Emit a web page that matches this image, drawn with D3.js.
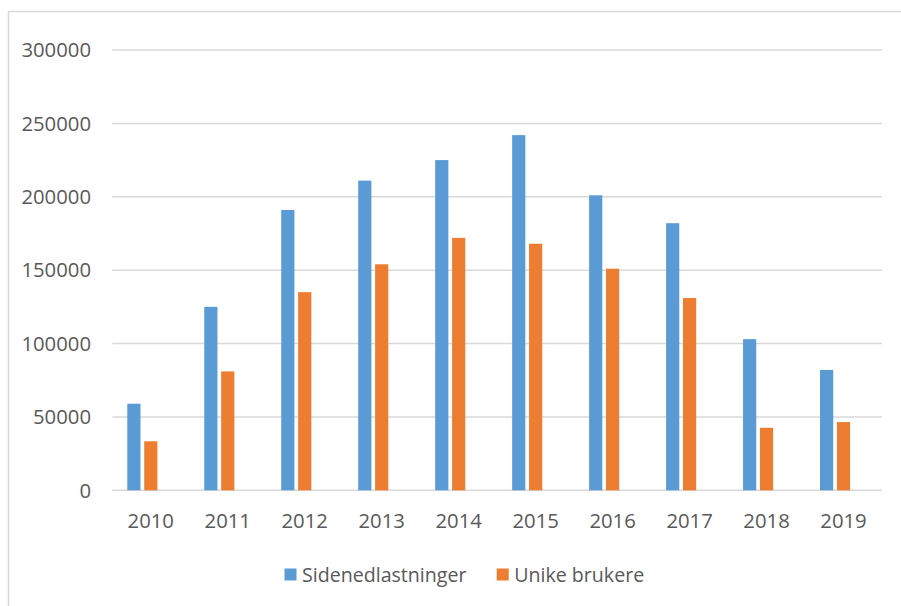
<!DOCTYPE html>
<html>
<head>
<meta charset="utf-8">
<script src="https://cdn.jsdelivr.net/npm/d3@7"></script>
<style>
  body { margin: 0; background: #fff; }
  svg text { font-family: "Open Sans", sans-serif; fill: #595959; }
</style>
</head>
<body>
<div id="chart"></div>
<script>
// Data
var years = ["2010", "2011", "2012", "2013", "2014", "2015", "2016", "2017", "2018", "2019"];
var sidenedlastninger = [59000, 125000, 191000, 211000, 225000, 242000, 201000, 182000, 103000, 82000];
var unikeBrukere = [33400, 81000, 135000, 154000, 172000, 168000, 151000, 131000, 42600, 46500];
var yTicks = [0, 50000, 100000, 150000, 200000, 250000, 300000];
var seriesNames = ["Sidenedlastninger", "Unike brukere"];
var seriesColors = ["#5B9BD5", "#ED7D31"];

var width = 901, height = 606;
var plot = {left: 112.3, right: 882, top: 50, bottom: 490.3};

var svg = d3.select("#chart")
  .append("svg")
    .attr("width", width)
    .attr("height", height);

// outer chart frame (runs off the right and bottom edge)
svg.append("rect")
  .attr("x", 8.5).attr("y", 11.5)
  .attr("width", 1000).attr("height", 1000)
  .attr("fill", "none")
  .attr("stroke", "#D9D9D9")
  .attr("stroke-width", 1.5);

var x0 = d3.scaleBand().domain(years).range([plot.left, plot.right]);
// the source has an empty third slot in each cluster
var x1 = d3.scaleBand().domain(["s0", "s1", "s2"]).range([15, 62]).paddingInner(0.22);
var y = d3.scaleLinear().domain([0, 300000]).range([plot.bottom, plot.top]);

// gridlines
svg.append("g")
  .selectAll("line")
  .data(yTicks)
  .join("line")
    .attr("x1", plot.left).attr("x2", plot.right)
    .attr("y1", function(d) { return y(d); })
    .attr("y2", function(d) { return y(d); })
    .attr("stroke", "#D9D9D9")
    .attr("stroke-width", 1.5);

// y axis labels
svg.append("g")
  .selectAll("text")
  .data(yTicks)
  .join("text")
    .attr("x", 91)
    .attr("y", function(d) { return y(d); })
    .attr("dy", "0.36em")
    .attr("text-anchor", "end")
    .style("font-size", "20.3px")
    .text(function(d) { return d; });

// bars
var series = [sidenedlastninger, unikeBrukere];
series.forEach(function(values, s) {
  svg.append("g")
    .attr("fill", seriesColors[s])
    .selectAll("rect")
    .data(values)
    .join("rect")
      .attr("x", function(d, i) { return x0(years[i]) + x1("s" + s); })
      .attr("y", function(d) { return y(d); })
      .attr("width", x1.bandwidth())
      .attr("height", function(d) { return y(0) - y(d); });
});

// x axis labels
svg.append("g")
  .selectAll("text")
  .data(years)
  .join("text")
    .attr("x", function(d) { return x0(d) + x0.bandwidth() / 2; })
    .attr("y", 527.8)
    .attr("text-anchor", "middle")
    .style("font-size", "20.3px")
    .text(function(d) { return d; });

// legend
var legendX = [284.5, 496.7];
var legend = svg.append("g")
  .selectAll("g")
  .data(seriesNames)
  .join("g")
    .attr("transform", function(d, i) { return "translate(" + legendX[i] + ",568.5)"; });

legend.append("rect")
  .attr("width", 12).attr("height", 12)
  .attr("fill", function(d, i) { return seriesColors[i]; });

legend.append("text")
  .attr("x", 17.5)
  .attr("y", 13.2)
  .style("font-size", "19.6px")
  .text(function(d) { return d; });
</script>
</body>
</html>
